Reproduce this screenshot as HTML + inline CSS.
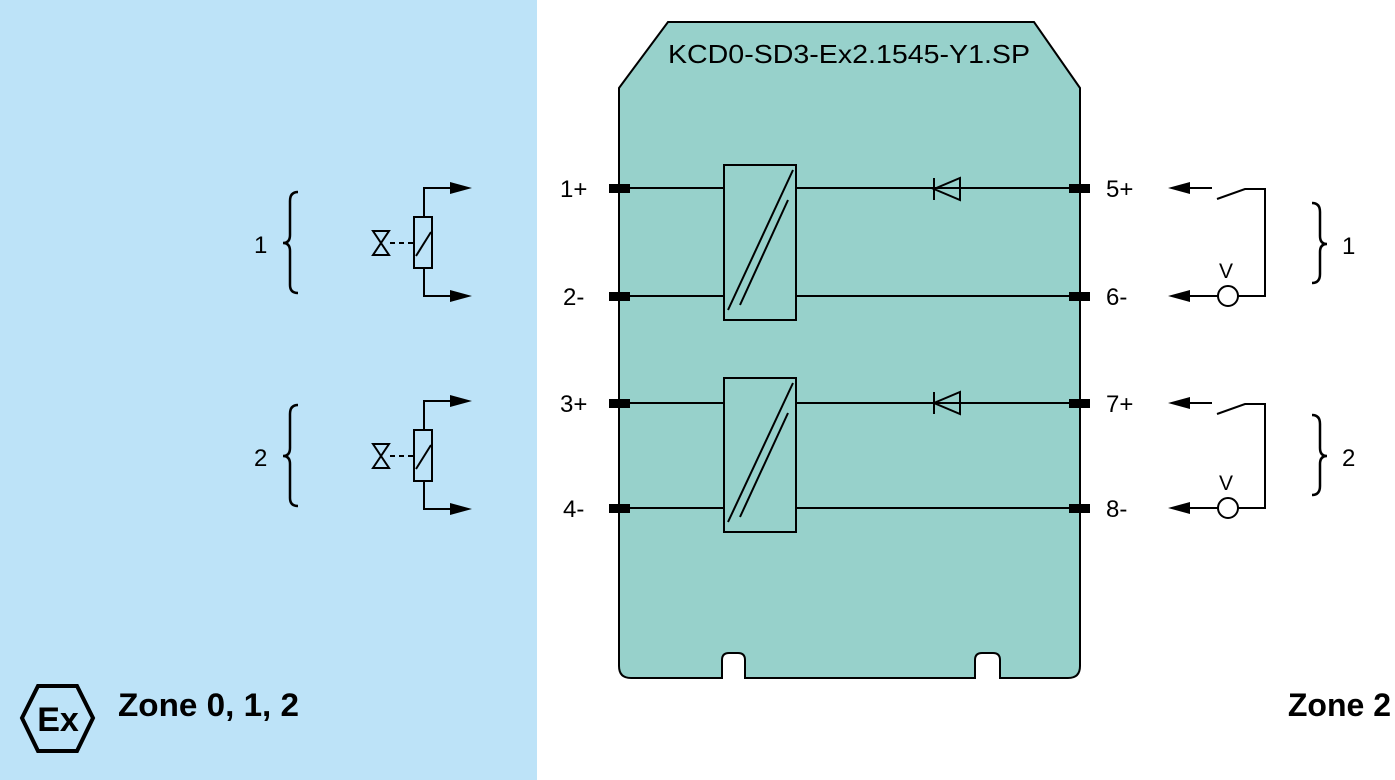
<!DOCTYPE html>
<html><head><meta charset="utf-8"><style>
html,body{margin:0;padding:0;background:#fff}
svg{display:block;font-family:"Liberation Sans",Arial,sans-serif}
</style></head><body>
<svg width="1395" height="780" viewBox="0 0 1395 780" xmlns="http://www.w3.org/2000/svg">
<rect x="0" y="0" width="537" height="780" fill="#bde3f8"/>
<path d="M668,22 L1034,22 L1080,88 L1080,666 Q1080,678 1068,678 L1000,678 L1000,660 Q1000,653 993,653 L982,653 Q975,653 975,660 L975,678 L745,678 L745,660 Q745,653 738,653 L729,653 Q722,653 722,660 L722,678 L631,678 Q619,678 619,666 L619,88 Z" fill="#97d1cb" stroke="#000" stroke-width="2"/>
<text x="668" y="63" font-size="26" textLength="362" lengthAdjust="spacingAndGlyphs">KCD0-SD3-Ex2.1545-Y1.SP</text>
<g stroke="#000" stroke-width="2" fill="none">
<line x1="619" y1="188" x2="724" y2="188"/><line x1="796" y1="188" x2="1080" y2="188"/>
<line x1="619" y1="296" x2="724" y2="296"/><line x1="796" y1="296" x2="1080" y2="296"/>
<line x1="619" y1="403" x2="724" y2="403"/><line x1="796" y1="403" x2="1080" y2="403"/>
<line x1="619" y1="508" x2="724" y2="508"/><line x1="796" y1="508" x2="1080" y2="508"/>
<rect x="724" y="165" width="72" height="155" fill="#97d1cb"/>
<rect x="724" y="378" width="72" height="154" fill="#97d1cb"/>
<line x1="728" y1="310" x2="793" y2="170"/><line x1="740" y1="305" x2="788" y2="200"/>
<line x1="728" y1="522" x2="793" y2="383"/><line x1="740" y1="517" x2="788" y2="413"/>
<path d="M960,178 L960,200 L934,189 Z M934,178 L934,200"/>
<path d="M960,392 L960,414 L934,403 Z M934,392 L934,414"/>
<path d="M1180,188 L1212,188 M1217,199 L1245,189 L1265,189 L1265,296 L1238,296 M1218,296 L1180,296"/>
<circle cx="1228" cy="296" r="10"/>
<path d="M1180,403 L1212,403 M1217,414 L1245,404 L1265,404 L1265,508 L1238,508 M1218,508 L1180,508"/>
<circle cx="1228" cy="508" r="10"/>
<path d="M1312,203 Q1320,203 1320,212 L1320,236 Q1320,244 1327,244 Q1320,244 1320,252 L1320,274 Q1320,283 1312,283" stroke-width="2.5"/>
<path d="M1312,415 Q1320,415 1320,424 L1320,448 Q1320,456 1327,456 Q1320,456 1320,464 L1320,486 Q1320,495 1312,495" stroke-width="2.5"/>
<path d="M298,192 Q290,192 290,201 L290,235 Q290,243 283,243 Q290,243 290,251 L290,285 Q290,293 298,293" stroke-width="2.5"/>
<path d="M298,405 Q290,405 290,414 L290,448 Q290,456 283,456 Q290,456 290,464 L290,498 Q290,506 298,506" stroke-width="2.5"/>
<path d="M424,217 L424,188 L452,188 M424,268 L424,296 L452,296"/>
<rect x="414" y="217" width="18" height="51"/>
<line x1="416" y1="256" x2="431" y2="232"/>
<path d="M373,231 L389,231 L373,255 L389,255 Z"/>
<line x1="390" y1="243" x2="414" y2="243" stroke-dasharray="5,4"/>
<path d="M424,430 L424,401 L452,401 M424,481 L424,509 L452,509"/>
<rect x="414" y="430" width="18" height="51"/>
<line x1="416" y1="469" x2="431" y2="445"/>
<path d="M373,444 L389,444 L373,468 L389,468 Z"/>
<line x1="390" y1="456" x2="414" y2="456" stroke-dasharray="5,4"/>
<path d="M38,686 L77,686 L93,718 L77,751 L38,751 L22,718 Z" stroke-width="4"/>
</g>
<g fill="#000">
<path d="M450,182 L472,188 L450,194 Z"/><path d="M450,290 L472,296 L450,302 Z"/>
<path d="M450,395 L472,401 L450,407 Z"/><path d="M450,503 L472,509 L450,515 Z"/>
<path d="M1190,182 L1168,188 L1190,194 Z"/><path d="M1190,290 L1168,296 L1190,302 Z"/>
<path d="M1190,397 L1168,403 L1190,409 Z"/><path d="M1190,502 L1168,508 L1190,514 Z"/>
<rect x="609" y="184" width="21" height="9"/><rect x="609" y="292" width="21" height="9"/>
<rect x="609" y="399" width="21" height="9"/><rect x="609" y="504" width="21" height="9"/>
<rect x="1069" y="184" width="21" height="9"/><rect x="1069" y="292" width="21" height="9"/>
<rect x="1069" y="399" width="21" height="9"/><rect x="1069" y="504" width="21" height="9"/>
</g>
<g font-size="24">
<text x="560" y="197">1+</text><text x="563" y="305">2-</text>
<text x="560" y="412">3+</text><text x="563" y="517">4-</text>
<text x="1106" y="197">5+</text><text x="1106" y="305">6-</text>
<text x="1106" y="412">7+</text><text x="1106" y="517">8-</text>
<text x="1219" y="278" font-size="21">V</text><text x="1219" y="490" font-size="21">V</text>
<text x="1342" y="254">1</text><text x="1342" y="466">2</text>
<text x="254" y="253">1</text><text x="254" y="466">2</text>
</g>
<text x="58" y="731" font-size="34" font-weight="bold" text-anchor="middle">Ex</text>
<text x="118" y="716" font-size="32" font-weight="bold" textLength="181" lengthAdjust="spacingAndGlyphs">Zone 0, 1, 2</text>
<text x="1391" y="716" font-size="32" font-weight="bold" text-anchor="end">Zone 2</text>
</svg>
</body></html>
